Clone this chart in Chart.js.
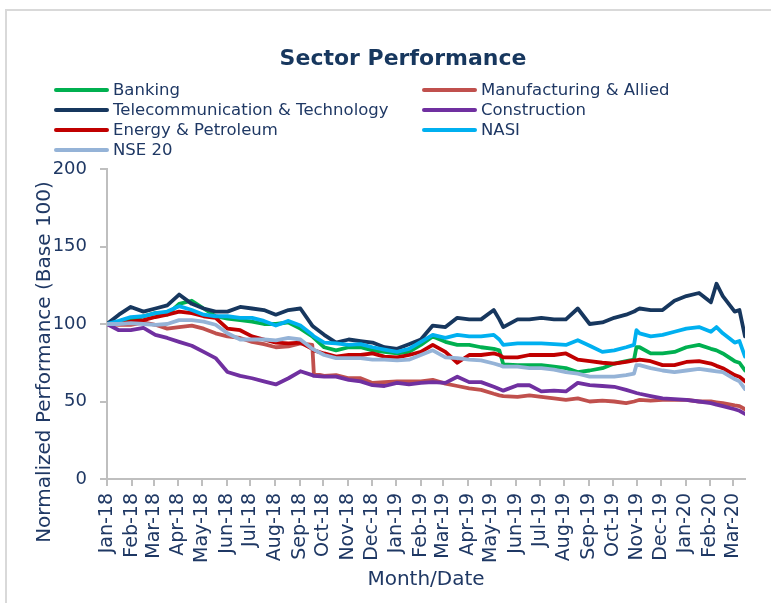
<!DOCTYPE html>
<html>
<head>
<meta charset="utf-8">
<title>Sector Performance</title>
<script src="https://cdn.jsdelivr.net/npm/chart.js@4.4.1/dist/chart.umd.min.js"></script>
<style>
    html, body { margin: 0; padding: 0; background: #fff; }
    canvas { display: block; }
</style>
</head>
<body>
<canvas id="sector-chart" width="771" height="603"></canvas>
<script>
// month tick labels (one per month start, Jan 2018 .. Mar 2020)
const monthLabels = ['Jan-18', 'Feb-18', 'Mar-18', 'Apr-18', 'May-18', 'Jun-18', 'Jul-18', 'Aug-18', 'Sep-18',
    'Oct-18', 'Nov-18', 'Dec-18', 'Jan-19', 'Feb-19', 'Mar-19', 'Apr-19', 'May-19', 'Jun-19', 'Jul-19',
    'Aug-19', 'Sep-19', 'Oct-19', 'Nov-19', 'Dec-19', 'Jan-20', 'Feb-20', 'Mar-20'];

// sample dates, in days since 1 Jan 2018
const sampleDay = [0, 15, 30, 46, 61, 76, 91, 107, 122, 137,
    152, 168, 183, 198, 213, 229, 244, 259, 261, 274,
    289, 305, 320, 335, 350, 366, 381, 396, 411, 427,
    442, 457, 472, 488, 495, 500, 518, 533, 548, 564,
    579, 594, 609, 625, 640, 655, 665, 668, 672, 686,
    701, 716, 731, 747, 762, 769, 777, 792, 798, 805];

const banking = [100, 101.5, 102.5, 105, 107, 106, 113, 115, 110, 105,
    103.5, 102.5, 101.5, 100, 100, 101, 97, 92, 91, 85,
    83, 85, 85, 83, 82, 81, 82, 86.5, 92, 88.5,
    86.5, 86.5, 85, 84, 83, 74, 73.5, 73.5, 73.5, 72.5,
    71.5, 69, 70, 71.5, 74.5, 76, 77, 85, 85, 81,
    81, 82, 85, 86.5, 84, 83, 81, 76, 75, 70];

const manufacturing = [100, 99.5, 99.5, 101, 99.5, 97, 98, 99, 97, 94,
    92, 91, 88.5, 87, 85, 85.5, 87.5, 86.5, 68, 66.5,
    67, 65, 65, 62, 62.5, 63, 63, 63, 64, 61.5,
    60, 58.5, 57.5, 55, 54, 53.5, 53, 54, 53, 52,
    51, 52, 50, 50.5, 50, 49, 50, 50.5, 51, 50.5,
    51, 51, 51, 50, 50, 49.5, 49, 47.5, 47, 45];

const telecom = [100, 106, 111, 108, 110, 112, 119, 113, 110, 108,
    108, 111, 110, 109, 106, 109, 110, 99, 98, 93,
    88, 90, 89, 88, 85, 84, 87, 90, 99, 98,
    104, 103, 103, 109, 103, 98, 103, 103, 104, 103,
    103, 110, 100, 101, 104, 106, 108, 109, 110, 109,
    109, 115, 118, 120, 114, 126, 118, 108, 109, 92];

const construction = [100, 96, 96, 97.5, 93, 91, 88.5, 86, 82, 78,
    69, 66.5, 65, 63, 61, 65, 69.5, 67, 66.5, 66,
    66, 64, 63, 60.5, 60, 62, 61, 62, 62.5, 62,
    66, 62.5, 62.5, 59.5, 58, 57, 60.5, 60.5, 56.5, 57,
    56.5, 62, 60.5, 60, 59.5, 57.5, 56, 55.5, 55, 53.5,
    52, 51.5, 51, 50, 49, 48, 47, 45, 44, 42];

const energy = [100, 100, 101.5, 102.5, 104.5, 106, 108, 107, 105, 104,
    97, 96, 92, 90, 88, 87.5, 88, 84, 83, 81,
    79, 80, 80, 81, 79, 78.5, 80, 82, 86.5, 82,
    75, 80, 80, 81, 80, 78.5, 78.5, 80, 80, 80,
    81, 77, 76, 75, 74.5, 75.5, 76.5, 76.5, 77, 76,
    73.5, 73.5, 75.5, 76, 74.5, 73, 71.5, 67, 66, 63];

const nasi = [100, 102, 104.5, 105, 107, 108, 111.5, 109, 106, 105,
    105, 104, 104, 102, 99, 102, 99, 93, 92, 88,
    87.5, 86.5, 87, 85, 83.5, 82, 84, 88.5, 93, 91,
    93, 92, 92, 93, 90, 86.5, 87.5, 87.5, 87.5, 87,
    86.5, 89.5, 86, 82, 83, 85, 86.5, 96, 94, 92,
    93, 95, 97, 98, 95, 98, 94, 88, 89, 79];

const nse20 = [100, 100, 100.5, 100, 99.5, 100, 102.5, 102.5, 101.5, 99.5,
    94, 90, 90, 90, 89.5, 91, 90, 84, 83.5, 80,
    78, 78, 78, 77, 77, 76.5, 77, 80, 83, 78.5,
    78, 77, 76.5, 74.5, 73.5, 72.5, 72.5, 71.5, 71.5, 70.5,
    69, 68, 66, 66, 66, 67, 68, 73.5, 73.5, 71.5,
    70, 69, 70, 71, 70, 69.5, 69, 64.5, 63, 58];

const seriesNames = ['Banking', 'Manufacturing & Allied', 'Telecommunication & Technology', 'Construction',
    'Energy & Petroleum', 'NASI', 'NSE 20'];
const seriesValues = [banking, manufacturing, telecom, construction, energy, nasi, nse20];
const seriesColors = ['#00B050', '#C0504D', '#17375E', '#7030A0', '#C00000', '#00B0F0', '#95B3D7'];

const NAVY = '#1F3864';
const AXIS_GREY = '#BFBFBF';
const FONT = '"DejaVu Sans", sans-serif';

// month start ticks as day offsets
const monthStartDays = monthLabels.map((_, i) => (Date.UTC(2018, i, 1) - Date.UTC(2018, 0, 1)) / 86400000);

// title, two-column legend, rotated y title and the frame
const decorations = {
    id: 'decorations',
    beforeDraw(chart) {
        const c = chart.ctx;
        c.save();
        c.strokeStyle = '#D9D9D9';
        c.lineWidth = 2;
        c.beginPath();
        c.moveTo(6, 603);
        c.lineTo(6, 10);
        c.lineTo(771, 10);
        c.stroke();
        c.restore();
    },
    afterDraw(chart) {
        const c = chart.ctx;
        c.save();
        c.fillStyle = '#17375E';
        c.font = 'bold 22px ' + FONT;
        c.textAlign = 'center';
        c.textBaseline = 'middle';
        c.fillText('Sector Performance', 403, 59);

        c.font = '16.5px ' + FONT;
        c.textAlign = 'left';
        c.lineCap = 'round';
        seriesNames.forEach((name, i) => {
            const x0 = i % 2 === 0 ? 56 : 424;
            const y = 90 + 20 * Math.floor(i / 2);
            c.strokeStyle = seriesColors[i];
            c.lineWidth = 4;
            c.beginPath();
            c.moveTo(x0, y);
            c.lineTo(x0 + 51, y);
            c.stroke();
            c.fillStyle = NAVY;
            c.fillText(name, x0 + 57, y + 1);
        });

        // y axis title, centred a little below the plot middle as in the original
        c.translate(45, 362);
        c.rotate(-Math.PI / 2);
        c.font = '20px ' + FONT;
        c.textAlign = 'center';
        c.textBaseline = 'middle';
        c.fillStyle = NAVY;
        c.fillText('Normalized Performance (Base 100)', 0, 0);
        c.restore();
    }
};

const chart = new Chart(document.getElementById('sector-chart').getContext('2d'), {
    type: 'line',
    data: {
        datasets: seriesNames.map((name, i) => ({
            label: name,
            data: sampleDay.map((d, j) => ({ x: d, y: seriesValues[i][j] })),
            borderColor: seriesColors[i],
            backgroundColor: seriesColors[i],
            borderWidth: 3.8,
            pointRadius: 0,
            tension: 0,
            borderJoinStyle: 'round',
            borderCapStyle: 'round',
            order: seriesNames.length - i  // later series on top
        }))
    },
    options: {
        responsive: false,
        animation: false,
        layout: { padding: { top: 169, right: 26, bottom: 0, left: 0 } },
        plugins: {
            legend: { display: false },
            title: { display: false },
            tooltip: { enabled: false }
        },
        scales: {
            x: {
                type: 'linear',
                min: 0,
                max: 805,
                afterBuildTicks: axis => {
                    axis.ticks = monthStartDays.map(v => ({ value: v }));
                },
                afterFit: scale => { scale.height = 124; },
                ticks: {
                    autoSkip: false,
                    minRotation: 90,
                    maxRotation: 90,
                    padding: 7,
                    color: NAVY,
                    font: { family: FONT, size: 19 },
                    callback: value => monthLabels[monthStartDays.indexOf(value)]
                },
                grid: { drawOnChartArea: false, drawTicks: true, tickLength: 7, color: AXIS_GREY, lineWidth: 2 },
                border: { display: true, color: AXIS_GREY, width: 2 },
                title: {
                    display: true,
                    text: 'Month/Date',
                    color: NAVY,
                    font: { family: FONT, size: 20 },
                    padding: { top: 0, bottom: 11 }
                }
            },
            y: {
                min: 0,
                max: 200,
                afterFit: scale => { scale.width = 107; },
                ticks: {
                    stepSize: 50,
                    padding: 13,
                    color: NAVY,
                    font: { family: FONT, size: 18 }
                },
                grid: { drawOnChartArea: false, drawTicks: true, tickLength: 7, color: AXIS_GREY, lineWidth: 2 },
                border: { display: true, color: AXIS_GREY, width: 2 }
            }
        }
    },
    plugins: [decorations]
});
</script>
</body>
</html>
